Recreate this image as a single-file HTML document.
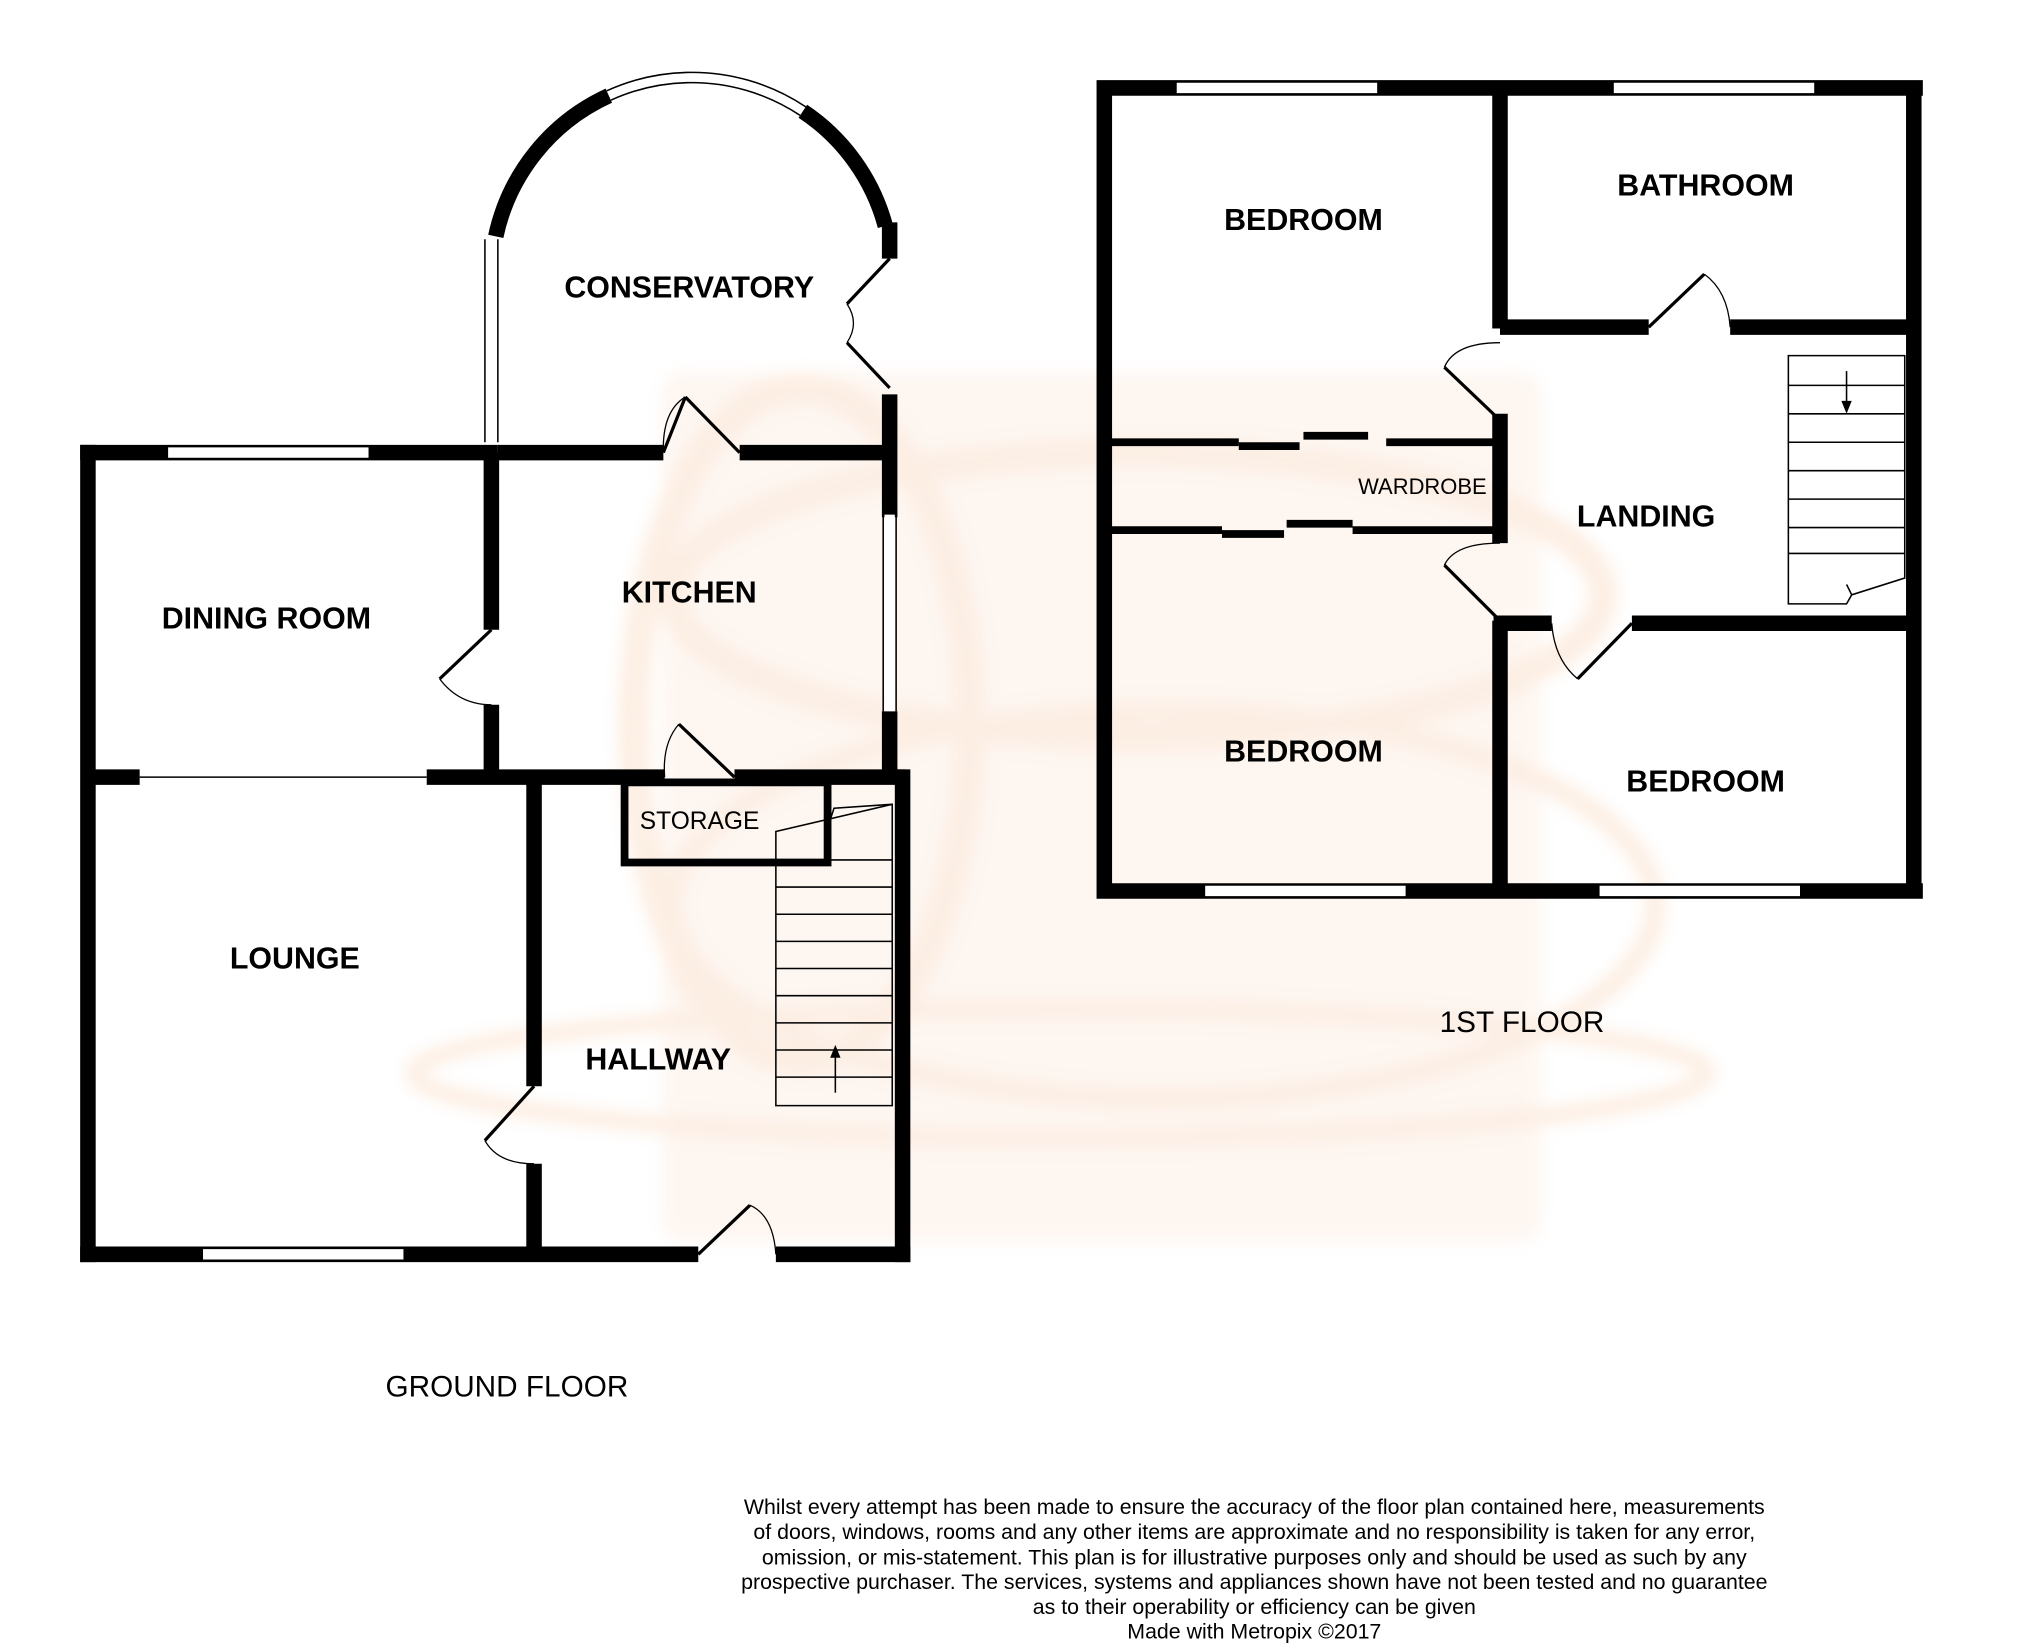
<!DOCTYPE html>
<html><head><style>html,body{margin:0;padding:0;background:#fff}svg{display:block}</style></head>
<body>
<svg width="2025" height="1650" viewBox="0 0 1566 1276" preserveAspectRatio="none" xmlns="http://www.w3.org/2000/svg" font-family="Liberation Sans, sans-serif">
<defs><filter id="b"><feGaussianBlur stdDeviation="6"/></filter></defs>
<g opacity="0.3" filter="url(#b)">
<rect x="512" y="288" width="680" height="672" rx="16" fill="#fbe3d2"/>
<ellipse cx="880" cy="460" rx="360" ry="110" fill="none" stroke="#f8c9a4" stroke-width="22"/>
<ellipse cx="900" cy="700" rx="380" ry="150" fill="none" stroke="#f8c9a4" stroke-width="16"/>
<ellipse cx="820" cy="830" rx="500" ry="50" fill="none" stroke="#f8c9a4" stroke-width="14"/>
<ellipse cx="620" cy="560" rx="130" ry="260" fill="none" stroke="#f8c9a4" stroke-width="24"/>
</g>
<g fill="none" stroke="#000" stroke-linecap="butt">
<g stroke-width="12">
<path d="M62 350 H385"/>
<path d="M68 344 V976"/>
<path d="M62 970 H540"/>
<path d="M600 970 H704"/>
<path d="M698 595 V976"/>
<path d="M688 305 V400 M688 550 V600"/>
<path d="M385 350 H513 M572 350 H690"/>
<path d="M380 350 V487 M380 545 V606"/>
<path d="M63 601 H108 M330 601 H514 M568 601 H700"/>
<path d="M413 601 V840 M413 900 V975"/>
<path d="M383.4 182.8 A155 155 0 0 1 684.7 174.9" pathLength="100" stroke-dasharray="35 38 27"/>
<path d="M688 172 V200"/>
</g>
<g stroke-width="1.2">
<path d="M387.3 183.6 A151 151 0 0 1 680.9 175.9" pathLength="100" stroke-dasharray="0 35 38 100"/>
<path d="M379.5 181.9 A159 159 0 0 1 688.6 173.8" pathLength="100" stroke-dasharray="0 35 38 100"/>
</g>
<g stroke="#fff" stroke-width="8"><path d="M130 350 H285"/><path d="M157 970 H312"/><path d="M688 398 V550"/><path d="M380 185 V342"/></g>
<g stroke-width="1.2"><path d="M130 345 H285 M130 355 H285"/><path d="M157 965 H312 M157 975 H312"/><path d="M683 398 V550 M693 398 V550"/><path d="M375 185 V342 M385 185 V342"/><path d="M108 601 H330"/></g>
<path d="M483 605 H640 V667 H483 Z" stroke-width="6"/>
<g stroke-width="2.5"><path d="M540 970 L580 932"/><path d="M380 487 L340 525"/><path d="M413 840 L375 882"/><path d="M513 350 L530 307 M530 307 L572 350"/><path d="M568 601 L525 560"/><path d="M688 200 L655 235 M655 265 L688 300"/></g>
<g stroke-width="1"><path d="M580 932 Q598 940 600 970"/><path d="M340 525 Q355 545 380 545"/><path d="M375 882 Q385 900 413 900"/><path d="M513 350 Q512 318 530 307"/><path d="M525 560 Q512 575 514 601"/><path d="M655 235 Q665 250 655 265"/></g>
<g stroke-width="1.2"><path d="M600 855 V643 L690 622 V855 Z"/><path d="M600 665 H690 M600 686 H690 M600 707 H690 M600 728 H690 M600 749 H690 M600 770 H690 M600 791 H690 M600 812 H690 M600 833 H690"/><path d="M646 845 V812"/><path d="M640 640 L645 625 L690 622"/></g>
<path d="M646 808 l-4 10 h8 z" fill="#000" stroke="none"/>
<g stroke-width="12">
<path d="M848 68 H1487 M854 62 V695 M848 689 H1487 M1480 62 V695"/>
<path d="M1160 68 V254"/>
<path d="M1160 253 H1275 M1338 253 H1480"/>
<path d="M1160 320 V420"/>
<path d="M1160 480 V690"/>
<path d="M1155 482 H1200 M1262 482 H1480"/>
</g>
<g stroke-width="6"><path d="M854 342 H958 M1072 342 H1160 M1008 337 H1058"/><path d="M854 410 H945 M1046 410 H1160 M995 405 H1046"/><path d="M958 345 H1005 M945 413 H993"/></g>
<g stroke="#fff" stroke-width="8"><path d="M910 68 H1065 M1248 68 H1403 M932 689 H1087 M1237 689 H1392"/></g>
<g stroke-width="1.2"><path d="M910 63 H1065 M910 73 H1065 M1248 63 H1403 M1248 73 H1403 M932 684 H1087 M932 694 H1087 M1237 684 H1392 M1237 694 H1392"/></g>
<g stroke-width="2.5"><path d="M1275 253 L1318 212"/><path d="M1117 284 L1160 325"/><path d="M1117 437 L1160 480"/><path d="M1220 525 L1262 482"/></g>
<g stroke-width="1"><path d="M1318 212 Q1336 225 1338 253"/><path d="M1117 284 Q1125 265 1160 265"/><path d="M1117 437 Q1125 420 1160 420"/><path d="M1220 525 Q1202 510 1200 482"/></g>
<g stroke-width="1.2"><path d="M1383 275 H1473 V447 L1432 460 L1428 467 L1383 467 Z"/><path d="M1383 298 H1473 M1383 320 H1473 M1383 342 H1473 M1383 364 H1473 M1383 386 H1473 M1383 408 H1473 M1383 428 H1473"/><path d="M1428 287 V314"/><path d="M1428 452 L1432 460"/></g>
<path d="M1428 320 l-4 -10 h8 z" fill="#000" stroke="none"/>
</g>
<g font-weight="bold" font-size="23.5" text-anchor="middle" fill="#000">
<text x="533" y="230">CONSERVATORY</text>
<text x="533" y="466">KITCHEN</text>
<text x="206" y="486">DINING ROOM</text>
<text x="228" y="749">LOUNGE</text>
<text x="509" y="827">HALLWAY</text>
<text x="1008" y="178">BEDROOM</text>
<text x="1319" y="151">BATHROOM</text>
<text x="1273" y="407">LANDING</text>
<text x="1008" y="589">BEDROOM</text>
<text x="1319" y="612">BEDROOM</text>
</g>
<g font-size="17" text-anchor="middle" fill="#000">
<text x="1100" y="382">WARDROBE</text>
<text x="541" y="641" font-size="19">STORAGE</text>
<text x="1177" y="798" font-size="23">1ST FLOOR</text>
<text x="392" y="1080" font-size="23">GROUND FLOOR</text>
<g font-size="16.5">
<text x="970" y="1171">Whilst every attempt has been made to ensure the accuracy of the floor plan contained here, measurements</text>
<text x="970" y="1190">of doors, windows, rooms and any other items are approximate and no responsibility is taken for any error,</text>
<text x="970" y="1210">omission, or mis-statement. This plan is for illustrative purposes only and should be used as such by any</text>
<text x="970" y="1229">prospective purchaser. The services, systems and appliances shown have not been tested and no guarantee</text>
<text x="970" y="1248">as to their operability or efficiency can be given</text>
<text x="970" y="1267">Made with Metropix ©2017</text>
</g>
</g>
</svg>
</body></html>
